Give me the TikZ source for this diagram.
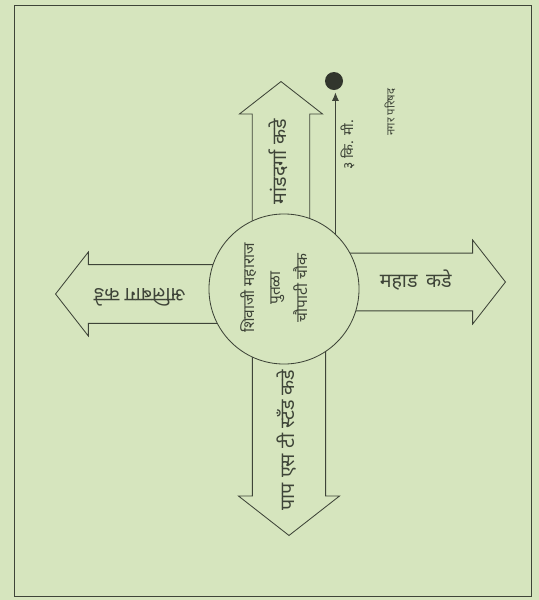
\documentclass[tikz,border=0pt]{standalone}
\usepackage{fontspec}
\newfontfamily\devfont[Script=Devanagari]{Noto Sans}
\usetikzlibrary{shapes.arrows, arrows.meta, positioning}
\definecolor{paper}{RGB}{214,229,190}
\definecolor{ink}{RGB}{62,68,56}

\begin{document}
\begin{tikzpicture}[x=0.025cm, y=-0.025cm, >={Latex[length=6pt,width=5pt]}, font=\devfont,
  road/.style={single arrow, draw=ink, fill=paper, line width=0.6pt, text=ink, single arrow tip angle=104,
    text height=8pt, text depth=0pt, inner xsep=2pt, font=\devfont\fontsize{14}{16}\selectfont, anchor=tail}]
\fill[paper] (0,0) rectangle (539,600);
\draw[ink, line width=0.6pt] (14,5) rectangle (531,596);
% roads out of the square
\node[road, rotate=90, inner ysep=11.6pt, minimum height=3.9cm, minimum width=2.075cm] (north) at (281,238) {\hspace{13pt}मांडदर्गा कडे};
\node[road, inner ysep=11.3pt, minimum height=4.45cm, minimum width=2.1cm] (east) at (327,282) {\hspace{15pt}महाड \,कडे};
\node[road, rotate=180, inner ysep=12.3pt, minimum height=4.2cm, minimum width=2.1cm] (west) at (224,294) {\hspace{16pt}अलिबाग कडे};
\node[road, rotate=90, shape border rotate=180, inner ysep=14.5pt, minimum height=4.65cm, minimum width=2.525cm] (south) at (289,349) {\makebox[0pt]{पाप एस टी स्टँड कडे\kern17pt}};
% square
\node[circle, draw=ink, fill=paper, line width=0.6pt, minimum size=3.75cm] (hub) at (284,289) {};
\node[rotate=90, align=center, text=ink, font=\devfont\fontsize{11}{19}\selectfont] (hubname) at (274,288) {शिवाजी महाराज\\पुतळा\\चौपाटी चौक};
% place 3 km away
\node[circle, fill=ink!80!black, minimum size=0.45cm, inner sep=0pt] (spot) at (334,81) {};
\draw[->, ink, line width=0.7pt, shorten >=1.5pt] (hub.47) -- (hub.47 |- spot.south)
  node[pos=0.62, rotate=90, anchor=north, text=ink, font=\devfont\fontsize{10}{12}\selectfont] (dist) {३ कि. मी.};
\node[rotate=90, text=ink, font=\devfont\fontsize{8}{10}\selectfont] (place) at (390,112) {नगर परिषद};
\end{tikzpicture}
\end{document}
